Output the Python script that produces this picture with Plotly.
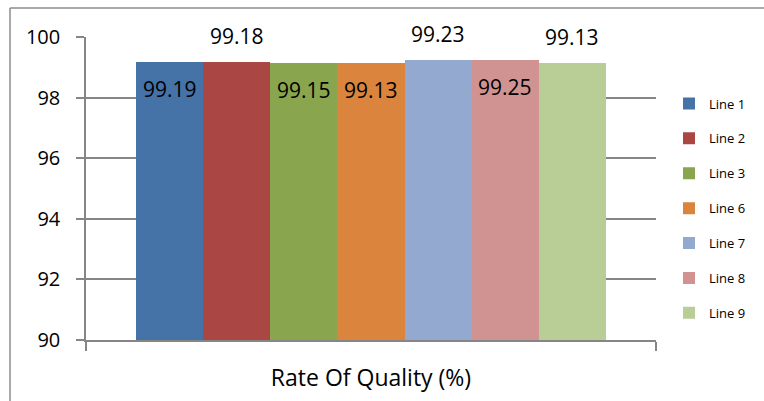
import plotly.graph_objects as go

# Quality rate per production line (%)
lines = ["Line 1", "Line 2", "Line 3", "Line 6", "Line 7", "Line 8", "Line 9"]
quality = [99.19, 99.18, 99.15, 99.13, 99.23, 99.25, 99.13]
colors = ["#4572A7", "#AA4643", "#89A54E", "#DB843D", "#93A9CF", "#D19392", "#B9CD96"]
y_ticks = [90, 92, 94, 96, 98, 100]
x_title = "Rate Of Quality (%)"

# value labels: drawn above the bar (True) or just inside its top (False)
label_above = [False, True, False, False, True, False, True]

FONT = "Open Sans, Lato, DejaVu Sans, sans-serif"
GRID = "#868686"

fig = go.Figure()
for i, (name, val, col) in enumerate(zip(lines, quality, colors)):
    fig.add_trace(go.Bar(
        x=[i], y=[val], width=1, name=name,
        marker=dict(color=col, line=dict(width=0)),
        legendgroup=name,
    ))
    fig.add_annotation(
        x=i, y=val, xref="x", yref="y",
        text=f"{val:.2f}", showarrow=False,
        yanchor="middle", yshift=26 if label_above[i] else -27,
        font=dict(family=FONT, size=21, color="#000000"),
    )

W, H = 764, 401
L, R, T, B = 86, 656, 37, 340


def px_x(px):
    return (px - L) / (R - L)


def px_y(py):
    return (B - py) / (B - T)


# outer chart frame: top and left edges (the others run past the page)
frame = dict(type="line", xref="paper", yref="paper",
             line=dict(color="#8C8C8C", width=1.5), layer="below")
fig.add_shape(x0=px_x(10), x1=px_x(W + 5), y0=px_y(8), y1=px_y(8), **frame)
fig.add_shape(x0=px_x(10), x1=px_x(10), y0=px_y(8), y1=px_y(H + 5), **frame)

fig.update_layout(
    width=W, height=H,
    margin=dict(l=L, r=W - R, t=T, b=H - B),
    paper_bgcolor="white", plot_bgcolor="white",
    barmode="overlay", bargap=0,
    font=dict(family=FONT, color="#000000"),
    showlegend=True,
    legend=dict(
        x=px_x(669), xanchor="left", y=px_y(208.5), yanchor="middle",
        font=dict(family=FONT, size=13, color="#000000"),
        traceorder="grouped", tracegroupgap=15,
        bgcolor="rgba(0,0,0,0)",
    ),
    xaxis=dict(
        range=[-1.25, 7.25], showgrid=False, zeroline=False,
        showline=True, linecolor=GRID, linewidth=1.5,
        tickmode="array", tickvals=[-1.25, 7.25], ticks="outside",
        ticklen=9, tickcolor=GRID, tickwidth=1.5, showticklabels=False,
        title=dict(text=x_title, standoff=20,
                   font=dict(family=FONT, size=23, color="#000000")),
        fixedrange=True,
    ),
    yaxis=dict(
        range=[90, 100], tickmode="array", tickvals=y_ticks,
        showgrid=True, gridcolor=GRID, gridwidth=1.5, zeroline=False,
        showline=True, linecolor=GRID, linewidth=1.5,
        ticks="outside", ticklen=8, tickcolor=GRID, tickwidth=1.5,
        ticklabelstandoff=12,
        tickfont=dict(family=FONT, size=20, color="#000000"),
        fixedrange=True,
    ),
)

fig.write_html(
    "out.html",
    config={"displayModeBar": False},
    post_script="document.documentElement.style.overflow='hidden';"
                "document.body.style.overflow='hidden';"
                "document.body.style.margin='0';",
)
